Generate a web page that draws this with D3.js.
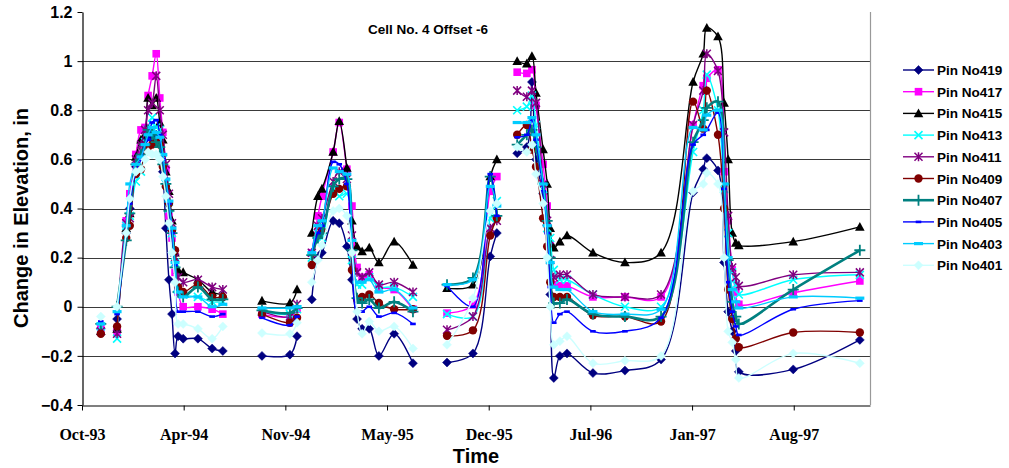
<!DOCTYPE html>
<meta charset="utf-8">
<body style="margin:0;background:#fff">
</body>
<script src="https://d3js.org/d3.v7.min.js"></script>
<script>

// measurement dates (null = blank row, breaks the lines)
var dates = [
  "1993-11-14", null,
  "1993-12-16","1994-01-03","1994-01-10","1994-01-22","1994-02-01","1994-02-09","1994-02-15","1994-02-23","1994-03-03","1994-03-10",
  "1994-03-16","1994-03-22","1994-03-28","1994-04-03","1994-04-09","1994-04-15","1994-04-25","1994-05-24","1994-06-21","1994-07-12", null,
  "1994-09-27","1994-11-21","1994-12-05", null,
  "1995-01-03","1995-01-15","1995-01-23","1995-02-14","1995-02-26","1995-03-13","1995-03-23","1995-04-02","1995-04-12","1995-04-26",
  "1995-05-15","1995-06-14","1995-07-21", null,
  "1995-09-26","1995-11-16","1995-12-20","1996-01-02", null,
  "1996-02-11","1996-03-01","1996-03-11","1996-03-19","1996-04-02","1996-04-10","1996-04-16","1996-04-23","1996-05-05","1996-05-19",
  "1996-07-09","1996-09-10","1996-11-20","1997-01-22","1997-02-11","1997-02-18","1997-03-12","1997-03-24","1997-04-01","1997-04-09",
  "1997-04-16","1997-04-22","1997-08-07","1997-12-16"
];

var pin419 = [-0.09, null,
  -0.05,0.30,0.40,0.57,0.62,0.68,0.70,0.68,0.70,0.66,0.55,0.32,0.11,-0.03,-0.19,-0.12,-0.13,-0.13,-0.17,-0.18, null,
  -0.20,-0.195,-0.12, null,
  0.03,0.20,0.22,0.35,0.34,0.245,0.11,-0.05,-0.09,-0.09,-0.20,-0.11,-0.23, null,
  -0.227,-0.19,0.205,0.30, null,
  0.625,0.65,0.915,0.60,0.46,0.33,0.05,-0.29,-0.20,-0.19,-0.27,-0.26,-0.215,0.465,0.56,0.605,0.555,0.18,-0.02,-0.10,-0.18,-0.265,-0.255,-0.135];
var pin417 = [-0.09, null,
  -0.10,0.35,0.46,0.62,0.72,0.73,0.86,0.94,1.03,0.85,0.71,0.56,0.37,0.28,0.14,0.06,0.00,0.00,-0.01,-0.03, null,
  -0.03,-0.04,-0.01, null,
  0.22,0.37,0.45,0.63,0.75,0.56,0.41,0.16,0.12,0.13,0.08,0.07,-0.01, null,
  -0.026,0.008,0.47,0.53, null,
  0.955,0.95,0.965,0.82,0.58,0.41,0.25,0.09,0.085,0.085,0.04,0.04,0.04,0.74,0.90,0.93,0.965,0.55,0.35,0.15,0.06,0.01,0.057,0.105];
var pin415 = [-0.10, null,
  -0.09,0.32,0.38,0.61,0.68,0.70,0.85,0.82,0.85,0.75,0.68,0.55,0.47,0.35,0.22,0.15,0.14,0.11,0.06,0.05, null,
  0.024,0.015,0.07, null,
  0.30,0.45,0.48,0.63,0.755,0.565,0.35,0.245,0.225,0.24,0.18,0.265,0.17, null,
  0.076,0.09,0.53,0.60, null,
  1.00,0.99,1.02,0.87,0.64,0.50,0.32,0.24,0.265,0.29,0.22,0.18,0.22,0.915,1.03,1.135,1.10,0.83,0.60,0.30,0.26,0.25,0.265,0.325];
var pin413 = [-0.08, null,
  -0.13,0.33,0.37,0.51,0.55,0.67,0.72,0.77,0.73,0.72,0.60,0.50,0.40,0.30,0.18,0.08,0.05,0.04,0.02,0.02, null,
  -0.02,-0.03,-0.01, null,
  0.20,0.30,0.28,0.48,0.45,0.46,0.19,0.09,0.09,0.12,0.08,0.08,0.04, null,
  -0.03,-0.04,0.36,0.43, null,
  0.80,0.815,0.86,0.74,0.48,0.32,0.28,0.15,0.11,0.11,0.05,0.00,0.00,0.63,0.80,0.945,0.80,0.48,0.30,0.14,0.09,0.05,0.11,0.13];
var pin411 = [-0.10, null,
  -0.11,0.34,0.36,0.60,0.66,0.72,0.80,0.83,0.94,0.80,0.70,0.58,0.46,0.34,0.20,0.12,0.10,0.11,0.08,0.07, null,
  -0.02,-0.04,0.01, null,
  0.22,0.33,0.36,0.51,0.55,0.52,0.29,0.14,0.12,0.14,0.09,0.10,0.06, null,
  -0.094,-0.04,0.32,0.35, null,
  0.88,0.855,0.88,0.83,0.50,0.35,0.19,0.12,0.13,0.13,0.05,0.04,0.05,0.74,0.88,1.03,0.96,0.71,0.37,0.16,0.12,0.085,0.13,0.14];
var pin409 = [-0.11, null,
  -0.08,0.28,0.33,0.54,0.56,0.63,0.65,0.66,0.67,0.66,0.57,0.49,0.42,0.31,0.23,0.08,0.06,0.09,0.04,0.04, null,
  -0.03,-0.065,-0.045, null,
  0.17,0.29,0.31,0.46,0.48,0.49,0.15,0.03,0.04,0.05,0.015,-0.01,-0.01, null,
  -0.118,-0.096,0.29,0.36, null,
  0.70,0.74,0.64,0.57,0.36,0.245,0.10,0.04,0.04,0.04,-0.035,-0.04,-0.06,0.835,0.725,0.88,0.70,0.40,0.07,-0.05,-0.13,-0.165,-0.105,-0.105];
var pin407 = [-0.07, null,
  0.00,0.27,0.38,0.58,0.62,0.66,0.72,0.70,0.67,0.65,0.58,0.50,0.39,0.30,0.16,0.06,0.04,0.08,0.03,0.03, null,
  -0.015,-0.025,-0.005, null,
  0.21,0.28,0.30,0.49,0.52,0.52,0.23,0.035,0.015,0.03,-0.005,0.02,-0.02, null,
  0.09,0.117,0.53,0.37, null,
  0.66,0.70,0.72,0.65,0.50,0.35,0.20,0.015,0.015,0.03,-0.03,-0.04,-0.04,0.67,0.76,0.81,0.835,0.50,0.19,0.02,-0.04,-0.07,0.07,0.23];
var pin405 = [-0.06, null,
  -0.03,0.30,0.42,0.55,0.60,0.66,0.68,0.75,0.76,0.70,0.60,0.52,0.42,0.30,0.17,-0.02,-0.02,-0.02,-0.04,-0.03, null,
  -0.045,-0.075,-0.04, null,
  0.22,0.30,0.33,0.59,0.58,0.50,0.22,-0.02,-0.02,0.00,-0.04,-0.025,-0.07, null,
  0.085,0.00,0.54,0.37, null,
  0.69,0.70,0.76,0.68,0.47,0.30,0.08,-0.065,-0.03,-0.02,-0.10,-0.10,-0.045,0.66,0.70,0.72,0.79,0.48,0.10,-0.02,-0.08,-0.115,-0.01,0.025];
var pin403 = [-0.07, null,
  -0.02,0.33,0.50,0.58,0.61,0.66,0.70,0.73,0.71,0.69,0.62,0.52,0.43,0.32,0.18,0.06,0.04,0.04,0.00,0.01, null,
  -0.005,-0.005,0.00, null,
  0.22,0.33,0.35,0.565,0.55,0.54,0.27,0.10,0.10,0.11,0.06,0.07,-0.005, null,
  0.09,0.11,0.49,0.41, null,
  0.75,0.75,0.77,0.70,0.50,0.33,0.18,0.08,0.07,0.07,-0.02,-0.03,-0.01,0.73,0.72,0.78,0.80,0.50,0.20,0.07,0.02,-0.005,0.04,0.035];
var pin401 = [-0.04, null,
  0.00,0.30,0.44,0.55,0.56,0.60,0.63,0.62,0.62,0.60,0.53,0.45,0.34,0.22,0.10,-0.07,-0.07,-0.09,-0.13,-0.08, null,
  -0.107,-0.11,-0.065, null,
  0.10,0.19,0.25,0.39,0.40,0.37,0.22,-0.02,-0.11,-0.06,-0.10,-0.08,-0.17, null,
  -0.155,0.035,0.39,0.42, null,
  0.65,0.63,0.66,0.54,0.42,0.20,0.00,-0.155,-0.14,-0.12,-0.23,-0.22,-0.20,0.47,0.50,0.545,0.50,0.20,-0.10,-0.145,-0.215,-0.29,-0.19,-0.23];

var seriesNames = ["Pin No419","Pin No417","Pin No415","Pin No413","Pin No411","Pin No409","Pin No407","Pin No405","Pin No403","Pin No401"];
var seriesValues = [pin419, pin417, pin415, pin413, pin411, pin409, pin407, pin405, pin403, pin401];
var seriesColors = ["#000080","#ff00ff","#000000","#00ffff","#800080","#800000","#008080","#0000ff","#00ccff","#ccffff"];
var seriesMarkers = ["diamond","square","triangle","cross","star","circle","plus","dash","bar","diamond"];

var yTicks = [-0.4,-0.2,0,0.2,0.4,0.6,0.8,1,1.2];
var axisStart = "1993-10-08", axisEnd = "1998-01-05", tickStepDays = 200, tickCount = 8;
var title = "Cell No. 4 Offset -6";

var width = 1009, height = 468;
var plot = {left: 82, right: 870, top: 12, bottom: 405};

var parse = d3.timeParse("%Y-%m-%d");

var x = d3.scaleTime()
  .domain([parse(axisStart), parse(axisEnd)])
  .range([plot.left, plot.right]);
var y = d3.scaleLinear()
  .domain([-0.4, 1.2])
  .range([plot.bottom, plot.top]);

var svg = d3.select("body").append("svg")
  .attr("width", width)
  .attr("height", height)
  .style("font-family", "'Liberation Sans', Arial, sans-serif");

svg.append("rect").attr("width", width).attr("height", height).attr("fill", "#fff");

// gridlines
svg.append("g")
  .selectAll("line")
  .data(yTicks.filter(function(t){ return t > -0.4 && t < 1.2; }))
  .enter()
  .append("line")
  .attr("x1", plot.left).attr("x2", plot.right)
  .attr("y1", function(d){ return Math.round(y(d)) + 0.5; })
  .attr("y2", function(d){ return Math.round(y(d)) + 0.5; })
  .attr("stroke", "#3a3a3a")
  .attr("stroke-width", 1);

// right border
svg.append("line")
  .attr("x1", plot.right + 0.5).attr("x2", plot.right + 0.5)
  .attr("y1", plot.top).attr("y2", plot.bottom)
  .attr("stroke", "#999").attr("stroke-width", 1.2);

// axes
var tickDates = d3.range(tickCount).map(function(k){ return d3.timeDay.offset(parse(axisStart), k * tickStepDays); });
var xAxis = d3.axisBottom(x).tickValues(tickDates).tickFormat(d3.timeFormat("%b-%y")).tickSize(5).tickSizeOuter(0);
var yAxis = d3.axisLeft(y).tickValues(yTicks).tickFormat(function(d){ return d3.format("")(+d.toFixed(1)); }).tickSize(5).tickSizeOuter(0);

var gx = svg.append("g")
  .attr("transform", "translate(0," + (plot.bottom + 0.5) + ")")
  .call(xAxis);
gx.select(".domain").attr("stroke", "#000").attr("stroke-width", 1.2);
gx.selectAll(".tick line").attr("stroke", "#000");
gx.selectAll(".tick text")
  .attr("y", 23)
  .style("font-family", "'Liberation Serif', 'Times New Roman', serif")
  .style("font-weight", "bold")
  .style("font-size", "16px")
  .attr("fill", "#000");

var gy = svg.append("g")
  .attr("transform", "translate(" + (plot.left + 0.5) + ",0)")
  .call(yAxis);
gy.select(".domain").attr("stroke", "#000").attr("stroke-width", 1.2);
gy.selectAll(".tick line").attr("stroke", "#000");
gy.selectAll(".tick text")
  .attr("x", -10)
  .style("font-weight", "bold")
  .style("font-size", "16px")
  .style("font-family", "'Liberation Sans', Arial, sans-serif")
  .attr("fill", "#000");

// titles
svg.append("text")
  .attr("x", 428).attr("y", 34)
  .attr("text-anchor", "middle")
  .style("font-weight", "bold").style("font-size", "13.5px")
  .text(title);

svg.append("text")
  .attr("x", 476).attr("y", 463)
  .attr("text-anchor", "middle")
  .style("font-weight", "bold").style("font-size", "20px")
  .text("Time");

svg.append("text")
  .attr("transform", "translate(28," + 218 + ") rotate(-90)")
  .attr("text-anchor", "middle")
  .style("font-weight", "bold").style("font-size", "20px")
  .text("Change in Elevation, in");

function drawMarker(g, type, color, px, py) {
  var m = g.append("g").attr("transform", "translate(" + px + "," + py + ")");
  if (type == "diamond") {
    m.append("path").attr("d", "M0,-4.5L4.5,0L0,4.5L-4.5,0Z").attr("fill", color).attr("stroke", color).attr("stroke-width", 0.5);
  } else if (type == "square") {
    m.append("rect").attr("x", -3.8).attr("y", -3.8).attr("width", 7.6).attr("height", 7.6).attr("fill", color);
  } else if (type == "triangle") {
    m.append("path").attr("d", "M0,-5L4.8,3.8L-4.8,3.8Z").attr("fill", color);
  } else if (type == "cross") {
    m.append("path").attr("d", "M-4,-4L4,4M-4,4L4,-4").attr("stroke", color).attr("stroke-width", 1.6);
  } else if (type == "star") {
    m.append("path").attr("d", "M-4,-4L4,4M-4,4L4,-4M0,-4.5L0,4.5").attr("stroke", color).attr("stroke-width", 1.5);
  } else if (type == "circle") {
    m.append("circle").attr("r", 4.2).attr("fill", color);
  } else if (type == "plus") {
    m.append("path").attr("d", "M-5.5,0L5.5,0M0,-5.5L0,5.5").attr("stroke", color).attr("stroke-width", 1.8);
  } else if (type == "dash") {
    m.append("rect").attr("x", -2.8).attr("y", -1.3).attr("width", 5.6).attr("height", 2.6).attr("fill", color);
  } else if (type == "bar") {
    m.append("rect").attr("x", -4.5).attr("y", -1.6).attr("width", 9).attr("height", 3.2).attr("fill", color);
  }
}

var line = d3.line()
  .defined(function(d){ return d.date != null && d.value != null; })
  .x(function(d){ return x(d.date); })
  .y(function(d){ return y(d.value); })
  .curve(d3.curveCatmullRom.alpha(0.5));

var chart = svg.append("g");
seriesValues.forEach(function(vals, i) {
  var pts = dates.map(function(d, j) {
    return {date: d == null ? null : parse(d), value: vals[j]};
  });
  var g = chart.append("g");
  g.append("path")
    .datum(pts)
    .attr("fill", "none")
    .attr("stroke", seriesColors[i])
    .attr("stroke-width", i == 6 ? 2.6 : 1.4)
    .attr("d", line);
  pts.filter(line.defined()).forEach(function(p) {
    drawMarker(g, seriesMarkers[i], seriesColors[i], x(p.date), y(p.value));
  });
});

// legend
var legend = svg.append("g").attr("transform", "translate(903,70)");
seriesNames.forEach(function(name, i) {
  var row = legend.append("g").attr("transform", "translate(0," + (i * 21.7) + ")");
  row.append("line").attr("x1", 0).attr("x2", 31).attr("y1", 0).attr("y2", 0)
    .attr("stroke", seriesColors[i]).attr("stroke-width", i == 6 ? 2.6 : 1.4);
  drawMarker(row, seriesMarkers[i], seriesColors[i], 15.5, 0);
  row.append("text").attr("x", 34).attr("y", 5)
    .style("font-weight", "bold").style("font-size", "13.5px")
    .text(name);
});

</script>
